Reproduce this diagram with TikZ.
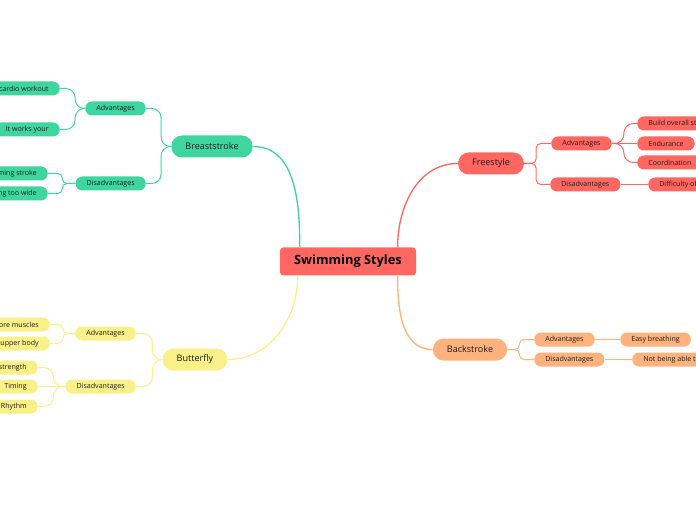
\documentclass[tikz,border=0pt]{standalone}
\usepackage{fontspec}
\setmainfont{Open Sans}
\usetikzlibrary{positioning}
\definecolor{redbr}{HTML}{FF6760}
\definecolor{greenbr}{HTML}{3ED59E}
\definecolor{orangebr}{HTML}{FFB27C}
\definecolor{yellowbr}{HTML}{FAF08A}
\definecolor{inkdark}{HTML}{1E1E1E}
\tikzset{
  root/.style={rectangle,rounded corners=2.5pt,fill=redbr,text=black,minimum width=102pt,minimum height=21pt,font=\fontsize{9.6}{11}\selectfont\bfseries},
  topic/.style={rectangle,rounded corners=8pt,minimum height=16.5pt,inner xsep=10.5pt,inner ysep=0pt,text=inkdark,font=\fontsize{6.8}{8}\selectfont},
  sub/.style={rectangle,rounded corners=5pt,minimum height=10.5pt,inner xsep=8.3pt,inner ysep=0pt,text=inkdark,font=\fontsize{5.3}{6}\selectfont},
  mainlink/.style={line width=1pt},
  sublink/.style={line width=0.75pt,rounded corners=7pt},
  tightlink/.style={line width=0.75pt,rounded corners=3.5pt}
}

\begin{document}
\begin{tikzpicture}[x=0.75pt,y=-0.75pt]
  \useasboundingbox (0,-1.5) rectangle (696,518.5);
  % centre
  \node[root] (root) at (348,260) {Swimming Styles};
  % main topics
  \node[topic, fill=greenbr] (bs) at (212,145) {Breaststroke};
  \node[topic, fill=redbr] (fs) at (491,162) {Freestyle};
  \node[topic, fill=orangebr] (bk) at (470,348) {Backstroke};
  \node[topic, fill=yellowbr] (bf) at (195,358) {Butterfly};
  \draw[mainlink, greenbr] ([xshift=15pt]root.north west) to[out=90,in=0] (bs.east);
  \draw[mainlink, redbr] ([xshift=-14pt]root.north east) to[out=90,in=180] (fs.west);
  \draw[mainlink, orangebr] ([xshift=-14pt]root.south east) to[out=-90,in=180] (bk.west);
  \draw[mainlink, yellowbr] ([xshift=13.5pt]root.south west) to[out=-90,in=0] (bf.east);

  % Breaststroke
  \node[sub, fill=greenbr, anchor=east] (bsadv) at (146,107) {Advantages};
  \node[sub, fill=greenbr, anchor=east] (bsdis) at (146,182) {Disadvantages};
  \node[sub, fill=greenbr, anchor=east] (bsa1) at (60,87) {Great cardio workout};
  \node[sub, fill=greenbr, anchor=east] (bsa2) at (60,128) {It works your};
  \node[sub, fill=greenbr, anchor=east] (bsd1) at (48,172) {Timing stroke};
  \node[sub, fill=greenbr, anchor=east] (bsd2) at (48,192) {Kicking too wide};
  \draw[sublink, greenbr] (bs.west) -- ++(-10,0) |- (bsadv.east);
  \draw[sublink, greenbr] (bs.west) -- ++(-10,0) |- (bsdis.east);
  \draw[sublink, greenbr] (bsadv.west) -- ++(-10,0) |- (bsa1.east);
  \draw[sublink, greenbr] (bsadv.west) -- ++(-10,0) |- (bsa2.east);
  \draw[tightlink, greenbr] (bsdis.west) -- ++(-13,0) |- (bsd1.east);
  \draw[tightlink, greenbr] (bsdis.west) -- ++(-13,0) |- (bsd2.east);

  % Freestyle
  \node[sub, fill=redbr, anchor=west] (fsadv) at (551,142) {Advantages};
  \node[sub, fill=redbr, anchor=west] (fsdis) at (550,183) {Disadvantages};
  \node[sub, fill=redbr, anchor=west] (fsa1) at (637,122) {Build overall strength};
  \node[sub, fill=redbr, anchor=west] (fsa2) at (637,142) {Endurance};
  \node[sub, fill=redbr, anchor=west] (fsa3) at (637,161) {Coordination};
  \node[sub, fill=redbr, anchor=west] (fsd1) at (648,183) {Difficulty of breathing};
  \draw[tightlink, redbr] (fs.east) -- ++(12,0) |- (fsadv.west);
  \draw[tightlink, redbr] (fs.east) -- ++(12,0) |- (fsdis.west);
  \draw[sublink, redbr] (fsadv.east) -- ++(12,0) |- (fsa1.west);
  \draw[sublink, redbr] (fsadv.east) -- (fsa2.west);
  \draw[sublink, redbr] (fsadv.east) -- ++(12,0) |- (fsa3.west);
  \draw[sublink, redbr] (fsdis.east) -- (fsd1.west);

  % Backstroke
  \node[sub, fill=orangebr, anchor=west] (bkadv) at (534,338) {Advantages};
  \node[sub, fill=orangebr, anchor=west] (bkdis) at (534,358) {Disadvantages};
  \node[sub, fill=orangebr, anchor=west] (bka1) at (620,338) {Easy breathing};
  \node[sub, fill=orangebr, anchor=west] (bkd1) at (632,358) {Not being able to see};
  \draw[tightlink, orangebr] (bk.east) -- ++(12,0) |- (bkadv.west);
  \draw[tightlink, orangebr] (bk.east) -- ++(12,0) |- (bkdis.west);
  \draw[sublink, orangebr] (bkadv.east) -- (bka1.west);
  \draw[sublink, orangebr] (bkdis.east) -- (bkd1.west);

  % Butterfly
  \node[sub, fill=yellowbr, anchor=east] (bfadv) at (136,332) {Advantages};
  \node[sub, fill=yellowbr, anchor=east] (bfdis) at (136,385) {Disadvantages};
  \node[sub, fill=yellowbr, anchor=east] (bfa1) at (50,323) {Works core muscles};
  \node[sub, fill=yellowbr, anchor=east] (bfa2) at (50,342) {Works upper body};
  \node[sub, fill=yellowbr, anchor=east] (bfd1) at (38,366) {Requires strength};
  \node[sub, fill=yellowbr, anchor=east] (bfd2) at (38,385) {Timing};
  \node[sub, fill=yellowbr, anchor=east] (bfd3) at (38,405) {Rhythm};
  \draw[sublink, yellowbr] (bf.west) -- ++(-10,0) |- (bfadv.east);
  \draw[sublink, yellowbr] (bf.west) -- ++(-10,0) |- (bfdis.east);
  \draw[tightlink, yellowbr] (bfadv.west) -- ++(-12,0) |- (bfa1.east);
  \draw[tightlink, yellowbr] (bfadv.west) -- ++(-12,0) |- (bfa2.east);
  \draw[sublink, yellowbr] (bfdis.west) -- ++(-12,0) |- (bfd1.east);
  \draw[sublink, yellowbr] (bfdis.west) -- (bfd2.east);
  \draw[sublink, yellowbr] (bfdis.west) -- ++(-12,0) |- (bfd3.east);
\end{tikzpicture}
\end{document}
